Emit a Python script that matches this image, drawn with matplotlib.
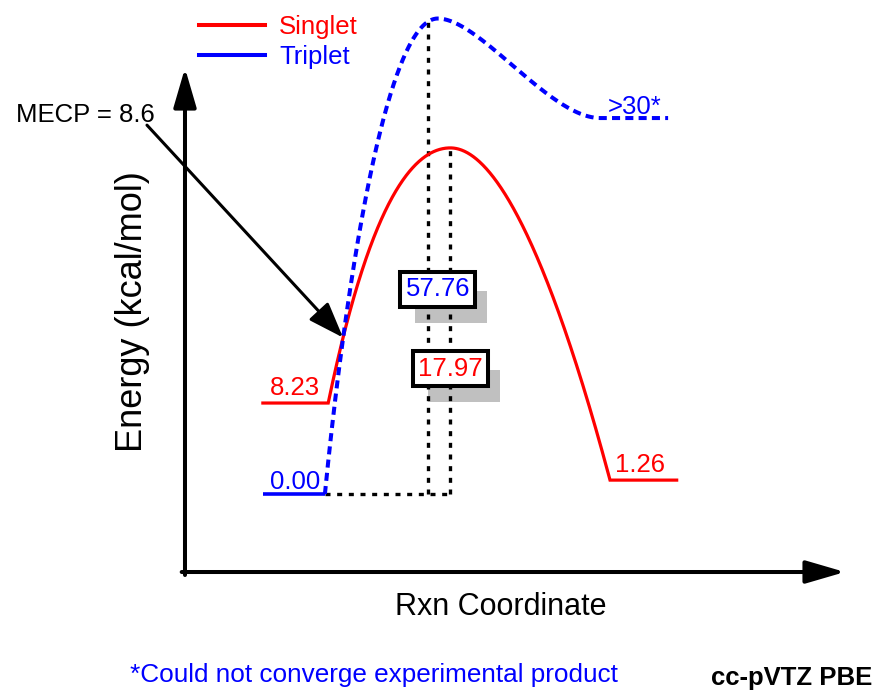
import numpy as np
import matplotlib
matplotlib.use("Agg")
import matplotlib.pyplot as plt
from matplotlib.lines import Line2D
from matplotlib.patches import FancyArrowPatch, Rectangle

plt.rcParams["font.family"] = ["Liberation Sans", "DejaVu Sans"]

# ---- data (kcal/mol); the diagram is schematic, barrier tops are not to scale ----
stages = ["Reactant", "TS", "Product"]
singlet_energy = [8.23, 31.3, 1.26]      # reactant, drawn TS top, product
triplet_energy = [0.00, 43.0, 34.0]      # reactant, drawn TS top, product (>30)
singlet_labels = ["8.23", "17.97", "1.26"]
triplet_labels = ["0.00", "57.76", ">30*"]
mecp_label = "MECP = 8.6"

# reaction-coordinate extents of the plateaus and TS positions
singlet_reactant_x = [1.18, 2.17]
triplet_reactant_x = [1.18, 2.12]
singlet_product_x = [6.44, 7.45]
triplet_product_x = [6.29, 7.32]
singlet_ts_x = 4.02
triplet_ts_x = 3.83
triplet_drop_x = 3.68

RED = "#ff0000"
BLUE = "#0000ff"
FS = 18.5


def bezier(p0, p3, a1, b1, a2, b2, n=300):
    """Cubic Bezier between p0 and p3, handles given as fractions of the span."""
    p0 = np.asarray(p0, float)
    p3 = np.asarray(p3, float)
    d = p3 - p0
    p1 = p0 + np.array([a1, b1]) * d
    p2 = p0 + np.array([a2, b2]) * d
    t = np.linspace(0, 1, n)[:, None]
    pts = ((1 - t) ** 3) * p0 + 3 * ((1 - t) ** 2) * t * p1 + 3 * (1 - t) * t ** 2 * p2 + t ** 3 * p3
    return pts[:, 0], pts[:, 1]


fig = plt.figure(figsize=(8.73, 6.91), dpi=100)
ax = fig.add_axes([0.2119, 0.1722, 0.7560, 0.7221])
ax.set_xlim(0, 10)
ax.set_ylim(-7.05, 38.07)
ax.axis("off")

# ---- axes drawn as arrows ----
axis_arrow = dict(arrowstyle="-|>,head_length=24,head_width=7", mutation_scale=1,
                  lw=2.9, color="black", shrinkA=0, shrinkB=0)
ax.annotate("", xy=(0, 1.01), xytext=(0, -0.006), xycoords="axes fraction",
            arrowprops=axis_arrow)
ax.annotate("", xy=(1, 0), xytext=(-0.005, 0), xycoords="axes fraction",
            arrowprops=axis_arrow)

# ---- singlet surface ----
s_rx = (singlet_reactant_x[1], singlet_energy[0])
s_ts = (singlet_ts_x, singlet_energy[1])
s_pr = (singlet_product_x[0], singlet_energy[2])
sx1, sy1 = bezier(s_rx, s_ts, 0.26, 0.60, 0.58, 1.0)
sx2, sy2 = bezier(s_ts, s_pr, 0.37, 0.0, 0.75, 0.55)
sx = np.concatenate([[singlet_reactant_x[0]], sx1, sx2, [singlet_product_x[1]]])
sy = np.concatenate([[singlet_energy[0]], sy1, sy2, [singlet_energy[2]]])
ax.plot(sx, sy, color=RED, lw=2.3, zorder=3, clip_on=False, solid_joinstyle="miter")

# ---- triplet surface ----
t_rx = (triplet_reactant_x[1], triplet_energy[0])
t_ts = (triplet_ts_x, triplet_energy[1])
t_pr = (triplet_product_x[0], triplet_energy[2])
tx1, ty1 = bezier(t_rx, t_ts, 0.17, 0.41, 0.53, 1.0)
tx2, ty2 = bezier(t_ts, t_pr, 0.26, 0.0, 0.69, 1.0)
ax.plot(triplet_reactant_x, [triplet_energy[0]] * 2, color=BLUE, lw=2.6, zorder=3,
        solid_capstyle="butt")
tx = np.concatenate([tx1, tx2, [triplet_product_x[1]]])
ty = np.concatenate([ty1, ty2, [triplet_energy[2]]])
ax.plot(tx, ty, color=BLUE, lw=2.9, ls=(0, (2.0, 1.3)), zorder=3, clip_on=False,
        dash_capstyle="butt")

# ---- dotted drop lines to the barrier tops ----
dot = dict(color="black", lw=2.4, ls=(0, (1.5, 2.0)), zorder=2, clip_on=False,
           dash_capstyle="butt")
triplet_top_at_drop = np.interp(triplet_drop_x, tx1, ty1)
ax.plot([triplet_reactant_x[1], singlet_ts_x], [triplet_energy[0]] * 2, **dot)
ax.plot([triplet_drop_x, triplet_drop_x], [triplet_energy[0], triplet_top_at_drop], **dot)
ax.plot([singlet_ts_x, singlet_ts_x], [triplet_energy[0], singlet_energy[1]], **dot)

# ---- plateau labels ----
def level_label(text, xy, color, dx, dy):
    ax.annotate(text, xy=xy, xytext=(dx, dy), textcoords="offset pixels",
                ha="left", va="baseline", color=color, fontsize=FS, zorder=5)

level_label(singlet_labels[0], (singlet_reactant_x[0], singlet_energy[0]), RED, 7, 8)
level_label(triplet_labels[0], (triplet_reactant_x[0], triplet_energy[0]), BLUE, 7, 5)
level_label(singlet_labels[2], (singlet_product_x[0], singlet_energy[2]), RED, 5, 8)
level_label(triplet_labels[2], (triplet_product_x[0], triplet_energy[2]), BLUE, 8, 4)

# ---- boxed barrier heights (shadows added once the layout is known) ----
boxes = [
    ax.text(triplet_ts_x, 18.5, triplet_labels[1], ha="center", va="center", fontsize=FS,
            color=BLUE, zorder=4,
            bbox=dict(boxstyle="square,pad=0.2", fc="white", ec="black", lw=2.9)),
    ax.text(singlet_ts_x, 11.35, singlet_labels[1], ha="center", va="center", fontsize=FS,
            color=RED, zorder=4,
            bbox=dict(boxstyle="square,pad=0.2", fc="white", ec="black", lw=2.9)),
]

# ---- minimum-energy crossing point ----
t_on_s = np.interp(sx1, tx1, ty1)
cross = np.where(np.diff(np.sign(sy1 - t_on_s)) != 0)[0][0]
mecp = (sx1[cross], sy1[cross])
ax.text(-0.46, 33.6, mecp_label, ha="right", va="baseline", fontsize=FS, color="black")
ax.add_patch(FancyArrowPatch((-0.576, 33.36), mecp,
                             arrowstyle="-|>,head_length=22,head_width=8", mutation_scale=1,
                             lw=2.2, color="black", shrinkA=0, shrinkB=0, clip_on=False,
                             zorder=5))

# ---- legend ----
handles = [Line2D([], [], color=RED, lw=2.9), Line2D([], [], color=BLUE, lw=2.9)]
ax.legend(handles, ["Singlet", "Triplet"], loc="upper left",
          bbox_to_anchor=(199 / 873, 1 - 15 / 691), bbox_transform=fig.transFigure,
          frameon=False, borderpad=0, borderaxespad=0, handlelength=2.57,
          handletextpad=0.55, labelspacing=0.24, labelcolor="linecolor",
          prop={"size": FS})

# ---- axis titles and notes ----
ax.text(-0.080, 0.521, "Energy (kcal/mol)", transform=ax.transAxes, rotation=90,
        ha="center", va="center", fontsize=26)
ax.text(0.479, -0.070, "Rxn Coordinate", transform=ax.transAxes,
        ha="center", va="center", fontsize=22)
fig.text(0.149, 0.013, "*Could not converge experimental product", color=BLUE,
         ha="left", va="baseline", fontsize=18.8)
fig.text(0.999, 0.008, "cc-pVTZ PBE", ha="right", va="baseline", fontsize=18.5,
         fontweight="bold")

# gray drop shadows behind the boxed values, offset right and down
fig.canvas.draw()
for t in boxes:
    bb = t.get_bbox_patch().get_window_extent()
    ax.add_patch(Rectangle((bb.x0 + 15, bb.y0 - 16), bb.width - 3, bb.height - 3,
                           transform=None, fc="#c0c0c0", ec="none", zorder=1,
                           clip_on=False))

fig.savefig("out.png", dpi=100)
